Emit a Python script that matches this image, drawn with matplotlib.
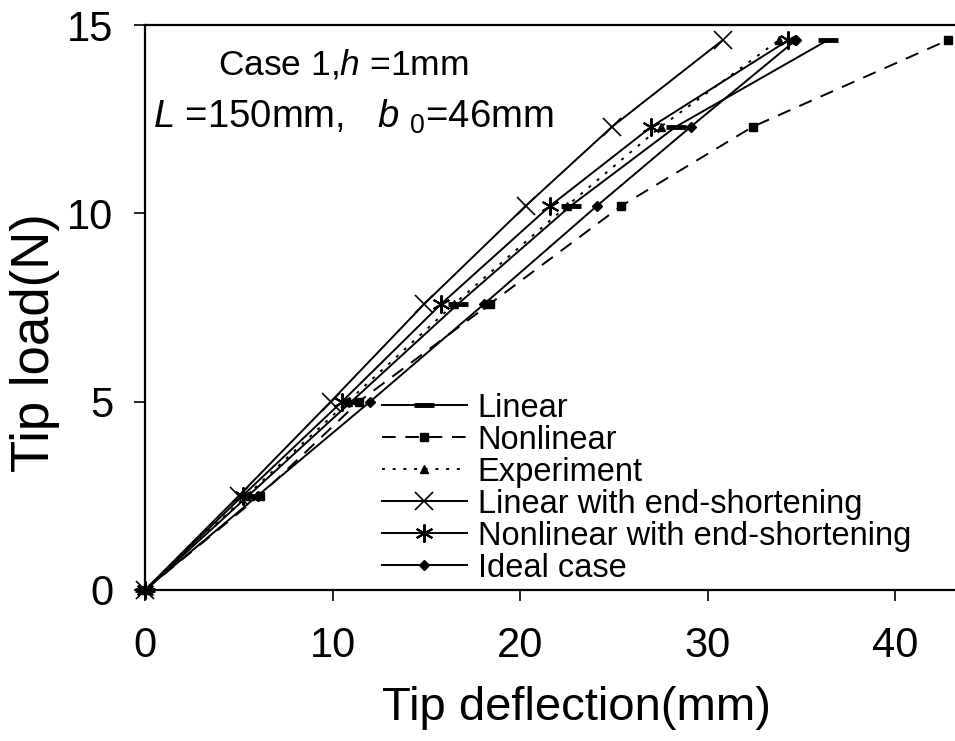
import matplotlib.pyplot as plt

plt.rcParams['font.family'] = ['Liberation Sans', 'DejaVu Sans']
plt.rcParams['mathtext.fontset'] = 'custom'
plt.rcParams['mathtext.rm'] = 'Liberation Sans'
plt.rcParams['mathtext.it'] = 'Liberation Sans:italic'

# tip load steps (N) and tip deflection (mm) for each model
load = [0, 2.5, 5.0, 7.6, 10.2, 12.3, 14.6]
linear = [0, 5.5, 11.0, 16.7, 22.7, 28.3, 36.4]
nonlinear = [0, 6.1, 11.4, 18.4, 25.4, 32.4, 42.8]
experiment = [0, 5.4, 10.8, 16.5, 22.5, 27.5, 33.8]
linear_es = [0, 5.0, 9.9, 14.9, 20.3, 24.9, 30.8]
nonlinear_es = [0, 5.2, 10.5, 15.8, 21.6, 27.0, 34.3]
ideal = [0, 6.0, 12.0, 18.1, 24.1, 29.1, 34.7]

fig = plt.figure(figsize=(9.55, 7.41), dpi=100)
ax = fig.add_axes([0.152, 0.204, 0.848, 0.762])

kw = dict(color="black", lw=1.4, clip_on=False)
ax.plot(linear, load, marker="_", ms=14, mew=3.5, label="Linear", **kw)
ax.plot(nonlinear, load, ls=(0, (7, 5)), marker="s", ms=6, label="Nonlinear", **kw)
ax.plot(experiment, load, ls=(0, (1.5, 4)), marker="^", ms=6, label="Experiment", **kw)
ax.plot(linear_es, load, marker="x", ms=13, mew=1.2,
        label="Linear with end-shortening", **kw)
ax.plot(nonlinear_es, load, marker=(6, 2, 0), ms=13, mew=1.5,
        label="Nonlinear with end-shortening", **kw)
ax.plot(ideal, load, marker="D", ms=5.5, label="Ideal case", **kw)

ax.set_xlim(0, 43.2)
ax.set_ylim(0, 15)
ax.set_xticks([0, 10, 20, 30, 40])
ax.set_yticks([0, 5, 10, 15])
ax.spines["right"].set_visible(False)
for s in ["left", "top", "bottom"]:
    ax.spines[s].set_linewidth(1.6)
ax.tick_params(direction="out", length=8, width=1.2, labelsize=30)
ax.tick_params(axis="y", pad=15)
ax.tick_params(axis="x", pad=18)

ax.set_xlabel("Tip deflection(mm)", fontsize=34)
ax.set_ylabel("Tip load(N)", fontsize=38)
ax.xaxis.set_label_coords(0.533, -0.171)
ax.yaxis.set_label_coords(-0.105, 0.438)

ax.text(0.09, 0.93, r"Case 1,$h$ =1mm", transform=ax.transAxes,
        fontsize=25.5, va="center")
ax.text(0.01, 0.838, r"$L$ =150mm,   $b$ $_{\mathit{0}}$=46mm",
        transform=ax.transAxes, fontsize=27.5, va="center")

ax.legend(loc="upper left", bbox_to_anchor=(0.40, 0.470),
          bbox_transform=fig.transFigure, frameon=False, fontsize=23.5,
          handlelength=2.6, handletextpad=0.33, labelspacing=0.03,
          borderpad=0, borderaxespad=0)

fig.savefig("out.png", dpi=100)
